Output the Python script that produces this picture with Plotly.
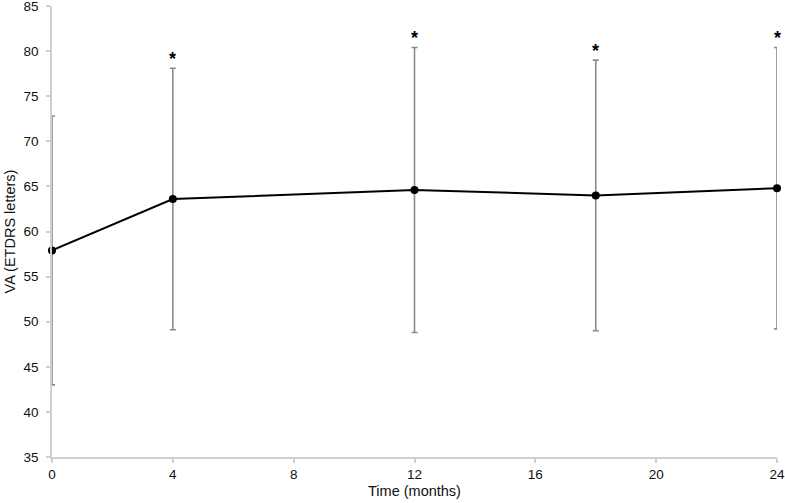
import plotly.graph_objects as go

months = [0, 4, 12, 18, 24]
va_mean = [57.9, 63.6, 64.6, 64.0, 64.8]
va_sd = [14.9, 14.5, 15.8, 15.0, 15.6]
significant = [False, True, True, True, True]
x_ticks = [0, 4, 8, 12, 16, 20, 24]
y_ticks = [35, 40, 45, 50, 55, 60, 65, 70, 75, 80, 85]

FONT = "Liberation Sans, Arial, Helvetica, sans-serif"

fig = go.Figure()
fig.add_trace(go.Scatter(
    x=months, y=va_mean, mode="lines+markers",
    line=dict(color="black", width=2),
    marker=dict(color="black", size=8),
    error_y=dict(type="data", array=va_sd, visible=True,
                 color="#8a8a8a", thickness=1.6, width=3),
    cliponaxis=False, showlegend=False,
))

for xm, m, s, sig in zip(months, va_mean, va_sd, significant):
    if sig:
        fig.add_annotation(x=xm, y=m + s, text="<b>*</b>", showarrow=False,
                           yanchor="bottom", yshift=-3,
                           font=dict(family=FONT, size=18, color="black"))

axis_common = dict(showgrid=False, zeroline=False, showline=True,
                   linecolor="#cfcfcf", linewidth=1.5, ticks="outside",
                   tickcolor="#cfcfcf", ticklen=4, tickwidth=1.5,
                   ticklabeloverflow="allow", automargin=False,
                   tickfont=dict(family=FONT, size=13.5, color="#111"),
                   mirror=False)

fig.update_layout(
    width=785, height=503,
    margin=dict(l=52, r=8, t=6, b=46, autoexpand=False),
    paper_bgcolor="white", plot_bgcolor="white",
    xaxis=dict(range=[0, 24], tickvals=x_ticks,
               title=dict(text="Time (months)", standoff=5,
                          font=dict(family=FONT, size=14.5, color="#111")),
               **axis_common),
    yaxis=dict(range=[35, 85], tickvals=y_ticks, ticklabelstandoff=5,
               title=dict(text="VA (ETDRS letters)", standoff=4,
                          font=dict(family=FONT, size=14.5, color="#111")),
               **axis_common),
)

fig.write_html("out.html", config={"displayModeBar": False},
               post_script="document.body.style.margin='0';")
